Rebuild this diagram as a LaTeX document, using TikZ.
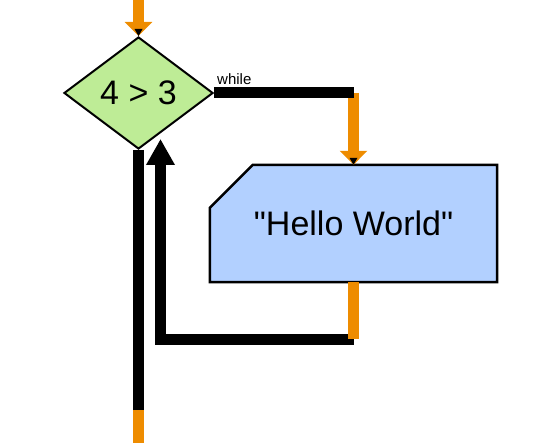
\documentclass[tikz,border=0pt]{standalone}
\usepackage{fontspec}
\setmainfont{Liberation Sans}[Ligatures=TeXOff]
\usetikzlibrary{arrows.meta,positioning,shapes.geometric,backgrounds}
\definecolor{fcFlow}{RGB}{238,140,0}
\definecolor{fcCond}{RGB}{190,236,150}
\definecolor{fcStmt}{RGB}{178,208,255}

\begin{document}
\begin{tikzpicture}[x=1pt,y=-1pt,font=\fontsize{34}{40}\selectfont,
  cond/.style={draw,diamond,line width=2pt,fill=fcCond,inner sep=0pt,minimum width=149pt,minimum height=112pt},
  stmt/.style={inner sep=0pt,minimum width=287pt,minimum height=117pt},
  wire/.style={line width=11pt},
  live/.style={line width=11pt,fcFlow},
  flowtip/.style={-{Triangle[width=27pt,length=14pt]}}]
    \useasboundingbox (0,0) rectangle (553,443);
    % Nodes
    \node[cond] at (138.5,93) (test) {4 > 3};
    \node[stmt] at (353.5,223.5) (hello) {"Hello World"};
    \node[above right=7pt and 2pt of test.east,font=\fontsize{15}{18}\selectfont,inner sep=1pt] (whilelbl) {while};
    % Statement outline, cut corner top left
    \begin{scope}[on background layer]
      \draw[line width=2.5pt,fill=fcStmt] ([xshift=43pt]hello.north west) -- (hello.north east) -- (hello.south east) -- (hello.south west) -- ([yshift=-43pt]hello.north west) -- cycle;
    \end{scope}
    % Turning points
    \coordinate (entry) at (138.5,0);
    \coordinate (wturn) at (hello.north |- test.east);
    \coordinate (bodyend) at (353.5,339);
    \coordinate (backturn) at (160.5,339);
    \coordinate (backtip) at (160.5,139);
    \coordinate (exitcut) at (138.5,410);
    \coordinate (exitend) at (138.5,443);
    % Entry
    \draw[live,flowtip] (entry) -- (test.north);
    \fill (test.north) -- +(-4,-7) -- +(4,-7) -- cycle;
    % While branch
    \draw[live,flowtip] (wturn) -- (hello.north);
    \draw[wire] (test.east) -- (wturn);
    \fill (hello.north) -- +(-4,-7) -- +(4,-7) -- cycle;
    % Loop back
    \draw[wire,-{Triangle[width=27pt,length=26pt]}] (bodyend) -- (backturn) -- (backtip);
    \draw[live] (hello.south) -- (bodyend);
    % Exit
    \draw[wire] (test.south) -- (exitcut);
    \draw[live] (exitcut) -- (exitend);
\end{tikzpicture}
\end{document}
